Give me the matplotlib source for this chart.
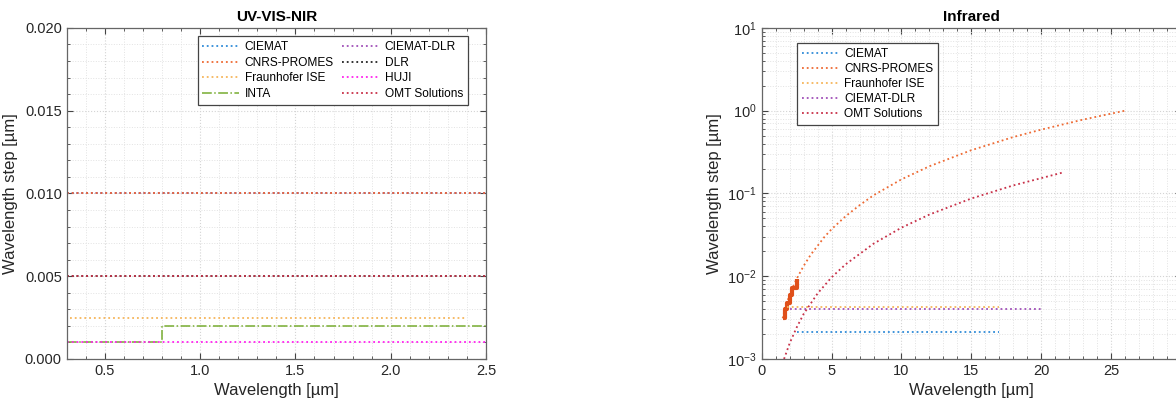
import matplotlib
matplotlib.use("Agg")
import matplotlib.pyplot as plt
from matplotlib.ticker import MultipleLocator, LogLocator, NullFormatter, FuncFormatter, FormatStrFormatter

plt.rcParams['font.family'] = ['Liberation Sans', 'DejaVu Sans']

# ---------------- data: UV-VIS-NIR ----------------
uv_names = ["CIEMAT", "CNRS-PROMES", "Fraunhofer ISE", "INTA",
            "CIEMAT-DLR", "DLR", "HUJI", "OMT Solutions"]
uv_ciemat_x = [0.3, 2.5];   uv_ciemat_y = [0.010, 0.010]
uv_cnrs_x = [0.3, 2.5];     uv_cnrs_y = [0.010, 0.010]
uv_fraun_x = [0.32, 2.4];   uv_fraun_y = [0.0025, 0.0025]
uv_inta_x = [0.3, 0.8, 0.8, 2.5]; uv_inta_y = [0.001, 0.001, 0.002, 0.002]
uv_cdlr_x = [0.3, 2.5];     uv_cdlr_y = [0.010, 0.010]
uv_dlr_x = [0.3, 2.5];      uv_dlr_y = [0.005, 0.005]
uv_huji_x = [0.3, 2.5];     uv_huji_y = [0.001, 0.001]
uv_omt_x = [0.3, 2.5];      uv_omt_y = [0.005, 0.005]

# ---------------- data: Infrared ----------------
ir_ciemat_x = [2.5, 17.0];  ir_ciemat_y = [0.0021, 0.0021]
ir_cnrs_x = [1.5, 1.65, 1.8, 2.0, 2.2, 2.5, 3.0, 3.5, 4.5, 5, 6, 7, 8, 10,
             12, 15, 18, 20, 23, 26]
ir_cnrs_y = [0.0031, 0.0040, 0.0048, 0.0059, 0.0072, 0.0093, 0.0133, 0.0181,
             0.030, 0.037, 0.053, 0.072, 0.095, 0.148, 0.213, 0.333, 0.48,
             0.59, 0.78, 1.0]
ir_fraun_x = [1.8, 17.0];   ir_fraun_y = [0.0042, 0.0042]
ir_cdlr_x = [2.0, 20.0];    ir_cdlr_y = [0.0040, 0.0040]
ir_omt_x = [1.6, 2, 2.5, 3, 4, 5, 6, 8, 10, 12, 15, 18, 21.6]
ir_omt_y = [0.001, 0.00155, 0.0024, 0.0035, 0.0062, 0.0097, 0.0139, 0.0247,
            0.0386, 0.0556, 0.0869, 0.125, 0.18]

# ---------------- styles ----------------
C_CIEMAT = '#2F8BD8'
C_CNRS = '#EE6A33'
C_FRAUN = '#F6B55A'
C_INTA = '#77AC30'
C_CDLR = '#A04FB8'
C_DLR = '#222222'
C_HUJI = '#FF22EE'
C_OMT = '#C83048'

FS = 10.5
LFS = 8.6
fig = plt.figure(figsize=(11.76, 3.98), dpi=100)
ax1 = fig.add_axes([0.0567, 0.098, 0.3566, 0.832])
ax2 = fig.add_axes([0.6477, 0.098, 0.3566, 0.832])


def style_axes(ax):
    ax.set_axisbelow(True)
    ax.grid(True, which='major', color='#d4d4d4', linestyle=':', linewidth=0.8)
    ax.grid(True, which='minor', color='#e2e2e2', linestyle=':', linewidth=0.7)
    ax.tick_params(which='both', direction='in', top=True, right=True,
                   labelsize=FS, colors='#444444', labelcolor='#262626')
    ax.tick_params(which='major', length=4)
    ax.tick_params(which='minor', length=2)
    for s in ax.spines.values():
        s.set_color('#666666')
        s.set_linewidth(0.9)


def style_legend(leg):
    fr = leg.get_frame()
    fr.set_edgecolor('#444444')
    fr.set_linewidth(0.9)
    fr.set_alpha(1)


lw = 1.3
# draw order chosen so visible colours match the reference where lines overlap
l_ciemat, = ax1.plot(uv_ciemat_x, uv_ciemat_y, ':', color=C_CIEMAT, lw=lw)
l_cdlr, = ax1.plot(uv_cdlr_x, uv_cdlr_y, ':', color=C_CDLR, lw=lw)
l_cnrs, = ax1.plot(uv_cnrs_x, uv_cnrs_y, ':', color=C_CNRS, lw=lw)
l_fraun, = ax1.plot(uv_fraun_x, uv_fraun_y, ':', color=C_FRAUN, lw=lw)
l_inta, = ax1.plot(uv_inta_x, uv_inta_y, '-.', color=C_INTA, lw=1.1)
l_dlr, = ax1.plot(uv_dlr_x, uv_dlr_y, ':', color=C_DLR, lw=lw)
l_huji, = ax1.plot(uv_huji_x, uv_huji_y, ':', color=C_HUJI, lw=lw)
l_omt, = ax1.plot(uv_omt_x, uv_omt_y, ':', color=C_OMT, lw=lw)
handles = [l_ciemat, l_cnrs, l_fraun, l_inta, l_cdlr, l_dlr, l_huji, l_omt]

ax1.set_xlim(0.3, 2.5)
ax1.set_ylim(0, 0.02)
ax1.xaxis.set_major_locator(MultipleLocator(0.5))
ax1.xaxis.set_minor_locator(MultipleLocator(0.1))
ax1.yaxis.set_major_locator(MultipleLocator(0.005))
ax1.yaxis.set_minor_locator(MultipleLocator(0.001))
ax1.xaxis.set_major_formatter(FormatStrFormatter('%.1f'))
ax1.yaxis.set_major_formatter(FormatStrFormatter('%.3f'))
style_axes(ax1)
ax1.set_title('UV-VIS-NIR', fontsize=FS + 0.5, fontweight='bold', pad=5)
ax1.set_xlabel('Wavelength [µm]', fontsize=FS + 1.5, color='#262626', labelpad=4)
ax1.set_ylabel('Wavelength step [µm]', fontsize=FS + 1.5, color='#262626', labelpad=5)
leg1 = ax1.legend(handles, uv_names, ncol=2, loc='upper right',
                  bbox_to_anchor=(0.965, 0.985),
                  fontsize=LFS, frameon=True, fancybox=False,
                  handlelength=3.1, handletextpad=0.45, columnspacing=0.7,
                  labelspacing=0.3, borderpad=0.4, borderaxespad=0.3)
style_legend(leg1)

# Infrared
ax2.plot(ir_ciemat_x, ir_ciemat_y, ':', color=C_CIEMAT, lw=lw, label='CIEMAT')
ax2.plot(ir_cnrs_x, ir_cnrs_y, ':', color=C_CNRS, lw=lw, label='CNRS-PROMES')
ax2.plot(ir_cnrs_x[:6], ir_cnrs_y[:6], '-', color='#E0501A', lw=3.0,
         drawstyle='steps-post', solid_capstyle='butt')
ax2.plot(ir_fraun_x, ir_fraun_y, ':', color=C_FRAUN, lw=lw, label='Fraunhofer ISE')
ax2.plot(ir_cdlr_x, ir_cdlr_y, ':', color=C_CDLR, lw=lw, label='CIEMAT-DLR')
ax2.plot(ir_omt_x, ir_omt_y, ':', color=C_OMT, lw=lw, label='OMT Solutions')

ax2.set_yscale('log')
ax2.set_xlim(0, 30)
ax2.set_ylim(1e-3, 10)
ax2.xaxis.set_major_locator(MultipleLocator(5))
ax2.xaxis.set_minor_locator(MultipleLocator(1))
ax2.xaxis.set_major_formatter(FuncFormatter(lambda v, p: '' if v > 27 else f'{v:.0f}'))
ax2.yaxis.set_major_locator(LogLocator(base=10, numticks=10))
ax2.yaxis.set_minor_locator(LogLocator(base=10, subs=range(2, 10), numticks=50))
ax2.yaxis.set_minor_formatter(NullFormatter())
style_axes(ax2)
ax2.set_title('Infrared', fontsize=FS + 0.5, fontweight='bold', pad=5)
ax2.set_xlabel('Wavelength [µm]', fontsize=FS + 1.5, color='#262626', labelpad=4)
ax2.set_ylabel('Wavelength step [µm]', fontsize=FS + 1.5, color='#262626', labelpad=4)
leg2 = ax2.legend(loc='upper left', bbox_to_anchor=(0.075, 0.965),
                  fontsize=LFS, frameon=True, fancybox=False,
                  handlelength=3.1, handletextpad=0.45,
                  labelspacing=0.25, borderpad=0.4, borderaxespad=0.3)
style_legend(leg2)

fig.savefig('out.png', dpi=100)
